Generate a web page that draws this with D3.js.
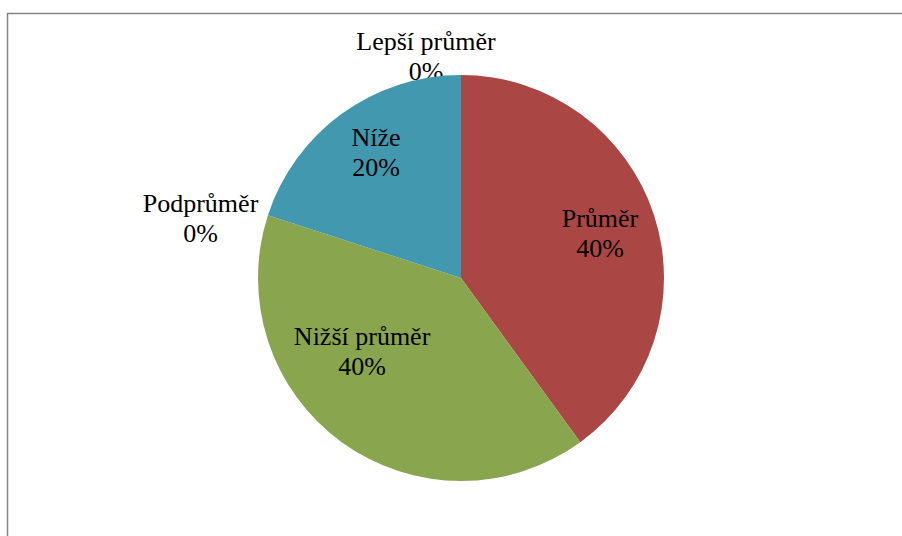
<!DOCTYPE html>
<html lang="cs">
<head>
  <meta charset="UTF-8">
  <title>Pie chart</title>
  <script src="https://d3js.org/d3.v7.min.js"></script>
  <style>
    body { margin: 0; background: #fff; }
    text { font-family: "Liberation Serif", "DejaVu Serif", "Times New Roman", Times, serif; }
  </style>
</head>
<body>
  <script>
    var categories = ["Lepší průměr", "Průměr", "Nižší průměr", "Podprůměr", "Níže"];
    var values = [0, 40, 40, 0, 20];
    var colors = ["#4572A7", "#AA4643", "#89A54E", "#71588F", "#4198AF"];

    var width = 902, height = 536;
    var cx = 461, cy = 278, radius = 203;

    // small manual shifts, like Excel's "best fit" label placement
    var labelNudge = {
      "Lepší průměr": [-35, -7],
      "Podprůměr": [-56, 6],
      "Nižší průměr": [-13, -45],
      "Níže": [1, -8]
    };

    var svg = d3.select("body")
                .append("svg")
                .attr("width", width)
                .attr("height", height);

    // chart frame (only top and left edges are visible)
    svg.append("line")
       .attr("x1", 7).attr("x2", width).attr("y1", 13.5).attr("y2", 13.5)
       .style("stroke", "#858585").style("stroke-width", 1.5);
    svg.append("line")
       .attr("x1", 7.5).attr("x2", 7.5).attr("y1", 13).attr("y2", height)
       .style("stroke", "#858585").style("stroke-width", 1.5);

    var data = categories.map(function(c, i) {
      return { name: c, value: values[i], color: colors[i] };
    });

    var total = d3.sum(values);

    var pie = d3.pie()
                .sort(null)
                .value(function(d) { return d.value; });

    var arcs = pie(data);

    var arc = d3.arc()
                .innerRadius(0)
                .outerRadius(radius);

    var inner = d3.arc()
                  .innerRadius(radius * 0.72)
                  .outerRadius(radius * 0.72);

    var outer = d3.arc()
                  .innerRadius(radius + 12)
                  .outerRadius(radius + 12);

    var g = svg.append("g")
               .attr("transform", "translate(" + cx + "," + cy + ")");

    function addLabel(sel, d, pos) {
      var nudge = labelNudge[d.data.name] || [0, 0];
      var x = pos[0] + nudge[0];
      var y = pos[1] + nudge[1];
      var t = sel.append("text")
                 .attr("text-anchor", "middle")
                 .attr("font-size", 26)
                 .attr("fill", "#000");
      t.append("tspan")
       .attr("x", x)
       .attr("y", y - 6)
       .text(d.data.name);
      t.append("tspan")
       .attr("x", x)
       .attr("y", y + 24)
       .text(Math.round(d.data.value / total * 100) + "%");
    }

    // labels for empty slices sit outside and under the pie
    var outsideLabels = g.append("g");
    arcs.filter(function(d) { return d.data.value === 0; })
        .forEach(function(d) { addLabel(outsideLabels, d, outer.centroid(d)); });

    g.selectAll(".slice")
     .data(arcs)
     .enter()
     .append("path")
     .attr("class", "slice")
     .attr("d", arc)
     .style("fill", function(d) { return d.data.color; });

    var insideLabels = g.append("g");
    arcs.filter(function(d) { return d.data.value > 0; })
        .forEach(function(d) { addLabel(insideLabels, d, inner.centroid(d)); });
  </script>
</body>
</html>
